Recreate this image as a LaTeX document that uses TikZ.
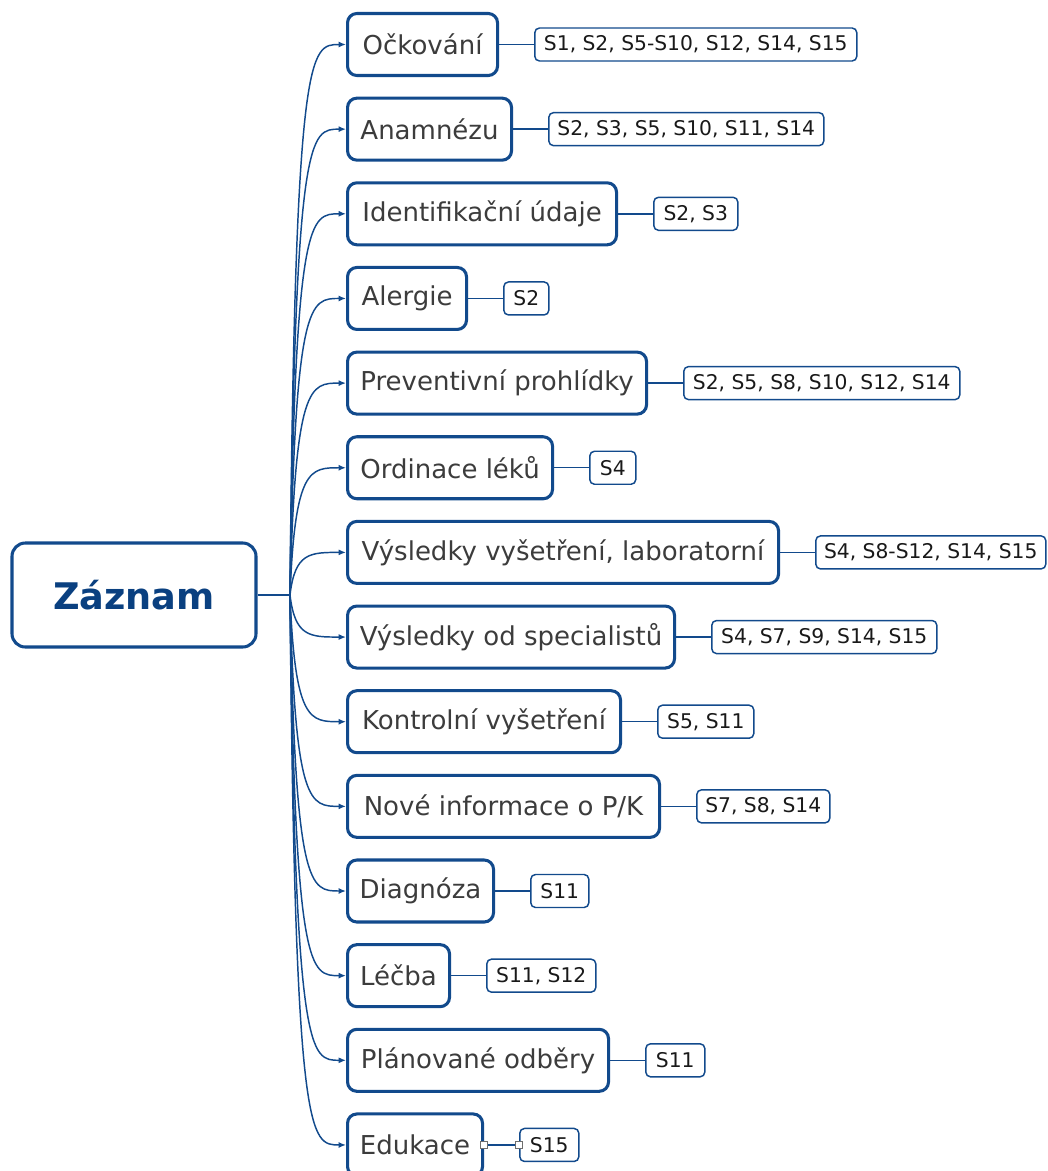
\documentclass[tikz,border=0pt]{standalone}
\usepackage{fontspec}
\setmainfont{DejaVu Sans}
\usetikzlibrary{arrows.meta,calc}
\definecolor{mapblue}{RGB}{18,74,140}
\definecolor{rootblue}{RGB}{10,64,128}
\definecolor{topictext}{RGB}{60,60,60}
\definecolor{tagtext}{RGB}{25,25,25}
\definecolor{handlegray}{RGB}{110,110,110}
\begin{document}
\begin{tikzpicture}[x=0.75pt,y=-0.75pt,
  rootbox/.style={draw=mapblue, line width=2.3pt, rounded corners=10pt, fill=white,
    minimum width=183pt, minimum height=78pt, text=rootblue,
    font=\fontsize{27.5}{30}\selectfont\bfseries},
  topic/.style={draw=mapblue, line width=2.3pt, rounded corners=7pt, fill=white,
    anchor=west, minimum height=46.5pt, inner xsep=2pt, text=topictext,
    font=\fontsize{19.5}{22}\selectfont},
  tag/.style={draw=mapblue, line width=1.1pt, rounded corners=3.5pt, fill=white,
    anchor=west, minimum height=24.75pt, inner xsep=1pt, text=tagtext,
    font=\fontsize{15.2}{17}\selectfont},
  branch/.style={draw=mapblue, line width=1.1pt, -{Latex[length=5.5pt,width=4.5pt]}},
  link/.style={draw=mapblue, line width=1.1pt},
  handle/.style={draw=handlegray, fill=white, line width=0.6pt, minimum size=5pt,
    inner sep=0pt, shape=rectangle}]
\useasboundingbox (0,0) rectangle (1048,1171);
\clip (0,0) rectangle (1048,1171);

% central topic and the junction where all branches start
\node[rootbox] (root) at (134,595) {Záznam};
\coordinate (J) at (290,595);
\draw[link] (root.east) -- (J);

% subtopics with their source tags
\foreach [count=\i from 0] \w/\t/\lw/\l in {
  150/Očkování/322/{S1, S2, S5-S10, S12, S14, S15},
  164/Anamnézu/275/{S2, S3, S5, S10, S11, S14},
  269/Identifikační údaje/84/{S2, S3},
  119/Alergie/45/{S2},
  299/Preventivní prohlídky/276/{S2, S5, S8, S10, S12, S14},
  205/Ordinace léků/46/{S4},
  431/{Výsledky vyšetření, laboratorní}/230/{S4, S8-S12, S14, S15},
  327/Výsledky od specialistů/225/{S4, S7, S9, S14, S15},
  273/Kontrolní vyšetření/96/{S5, S11},
  312/{Nové informace o P/K}/133/{S7, S8, S14},
  146/Diagnóza/58/{S11},
  102/Léčba/109/{S11, S12},
  261/Plánované odběry/59/{S11},
  135/Edukace/59/{S15}}
{
  \node[topic, minimum width=\w*0.75pt] (b\i) at (346,44.5+84.65*\i) {\t};
  \node[tag, minimum width=\lw*0.75pt] (l\i) at ($(b\i.east)+(35,0)$) {\l};
  \draw[branch] (J) .. controls ($(J |- b\i.west)+(5,0)$) and ($(J |- b\i.west)+(20,0)$) .. (b\i.west);
  \draw[link] (b\i.east) -- (l\i.west);
}

% selection handles on the last link
\node[handle] (h1) at (b13.east) {};
\node[handle] (h2) at (l13.west) {};
\end{tikzpicture}
\end{document}
